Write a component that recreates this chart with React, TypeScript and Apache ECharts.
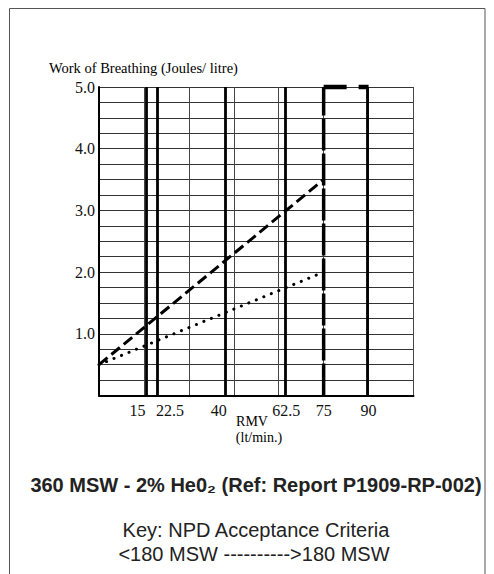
import React, { useEffect, useRef } from "react";
import * as echarts from "echarts";

// Axis ranges and tick labels
const yMin = 0;
const yMax = 5;
const yStep = 0.25;
const xMin = 0;
const xMax = 105;
const xStep = 15;
const xTickLabels = [15, 22.5, 40, 62.5, 75, 90];
// heavy vertical rules, where the original drawing places them
const thickRuleX = [15.8, 19.6, 42, 62.3, 89.5];

// Series (RMV lt/min, Work of Breathing J/l)
const dashedCurve = [
  [0, 0.5],
  [75, 3.5],
];
const dottedCurve = [
  [0, 0.5],
  [75, 2.0],
];
const limitVertical = [
  [75, 0],
  [75, 5],
];
const limitTop = [
  [75, 5],
  [90, 5],
];

const SERIF = "'Liberation Serif', 'DejaVu Serif', serif";
const SANS = "'Liberation Sans', Arial, sans-serif";

export default function App() {
  const ref = useRef<HTMLDivElement>(null);
  useEffect(() => {
    if (!ref.current) return;
    const chart = echarts.init(ref.current, undefined, { renderer: "svg" });
    chart.setOption({
      animation: false,
      backgroundColor: "#fff",
      grid: { left: 99, top: 87, right: 80.5, bottom: 178.5, containLabel: false },
      xAxis: {
        type: "value",
        min: xMin,
        max: xMax,
        interval: xStep,
        axisLine: { show: true, lineStyle: { color: "#000", width: 2 } },
        axisTick: { show: false },
        splitLine: { show: true, lineStyle: { color: "#444", width: 1 } },
        axisLabel: {
          customValues: xTickLabels,
          margin: 7,
          color: "#111",
          fontFamily: SERIF,
          fontSize: 16,
          formatter: (v: number) =>
            v === 15 ? "{l|15}" : v === 22.5 ? "{r|22.5}" : String(v),
          rich: {
            l: { fontFamily: SERIF, fontSize: 16, color: "#111", padding: [0, 13, 0, 0] },
            r: { fontFamily: SERIF, fontSize: 16, color: "#111", padding: [0, 0, 0, 7] },
          },
        },
      },
      yAxis: {
        type: "value",
        min: yMin,
        max: yMax,
        interval: yStep,
        axisLine: { show: true, lineStyle: { color: "#000", width: 2 } },
        axisTick: { show: false },
        splitLine: { show: true, lineStyle: { color: "#333", width: 1 } },
        axisLabel: {
          margin: 4,
          color: "#111",
          fontFamily: SERIF,
          fontSize: 16,
          formatter: (v: number) =>
            v > 0 && Math.abs(v - Math.round(v)) < 1e-9 ? v.toFixed(1) : "",
        },
      },
      series: [
        {
          type: "line",
          data: dashedCurve,
          symbol: "none",
          clip: false,
          lineStyle: { color: "#000", width: 3, type: [11, 5] },
        },
        {
          type: "line",
          data: dottedCurve,
          symbol: "none",
          clip: false,
          lineStyle: { color: "#000", width: 3, type: [0.1, 8], cap: "round" },
        },
        {
          type: "line",
          data: limitVertical,
          symbol: "none",
          clip: false,
          lineStyle: { color: "#000", width: 3.5, type: [32, 3] },
          markLine: {
            silent: true,
            symbol: ["none", "none"],
            label: { show: false },
            lineStyle: { color: "#000", width: 2.8, type: "solid" },
            data: thickRuleX.map((x) => ({ xAxis: x })),
          },
        },
        {
          type: "line",
          data: limitTop,
          symbol: "none",
          clip: false,
          lineStyle: { color: "#000", width: 4.5, type: [23, 12] },
        },
      ],
      graphic: [
        {
          type: "rect",
          shape: { x: 9.5, y: 8.5, width: 475.5, height: 620 },
          style: { fill: "none", stroke: "#555", lineWidth: 1 },
          silent: true,
        },
        {
          type: "text",
          x: 49,
          y: 68,
          style: {
            text: "Work of Breathing (Joules/ litre)",
            font: `14.5px ${SERIF}`,
            fill: "#000",
            textAlign: "left",
            textVerticalAlign: "middle",
          },
        },
        {
          type: "text",
          x: 252,
          y: 421,
          style: {
            text: "RMV",
            font: `14px ${SERIF}`,
            fill: "#000",
            textAlign: "center",
            textVerticalAlign: "middle",
          },
        },
        {
          type: "text",
          x: 259,
          y: 437,
          style: {
            text: "(lt/min.)",
            font: `14px ${SERIF}`,
            fill: "#000",
            textAlign: "center",
            textVerticalAlign: "middle",
          },
        },
        {
          type: "text",
          x: 256,
          y: 485,
          style: {
            text: "360 MSW - 2% He0₂ (Ref: Report P1909-RP-002)",
            font: `bold 20px ${SANS}`,
            fill: "#222",
            textAlign: "center",
            textVerticalAlign: "middle",
          },
        },
        {
          type: "text",
          x: 256,
          y: 530,
          style: {
            text: "Key: NPD Acceptance Criteria",
            font: `20px ${SANS}`,
            fill: "#222",
            textAlign: "center",
            textVerticalAlign: "middle",
          },
        },
        {
          type: "text",
          x: 254,
          y: 554,
          style: {
            text: "<180 MSW ---------->180 MSW",
            font: `20px ${SANS}`,
            fill: "#222",
            textAlign: "center",
            textVerticalAlign: "middle",
          },
        },
      ],
    });
    return () => chart.dispose();
  }, []);
  return (
    <div
      ref={ref}
      style={{ position: "fixed", left: 0, top: 0, width: 494, height: 574 }}
    />
  );
}
